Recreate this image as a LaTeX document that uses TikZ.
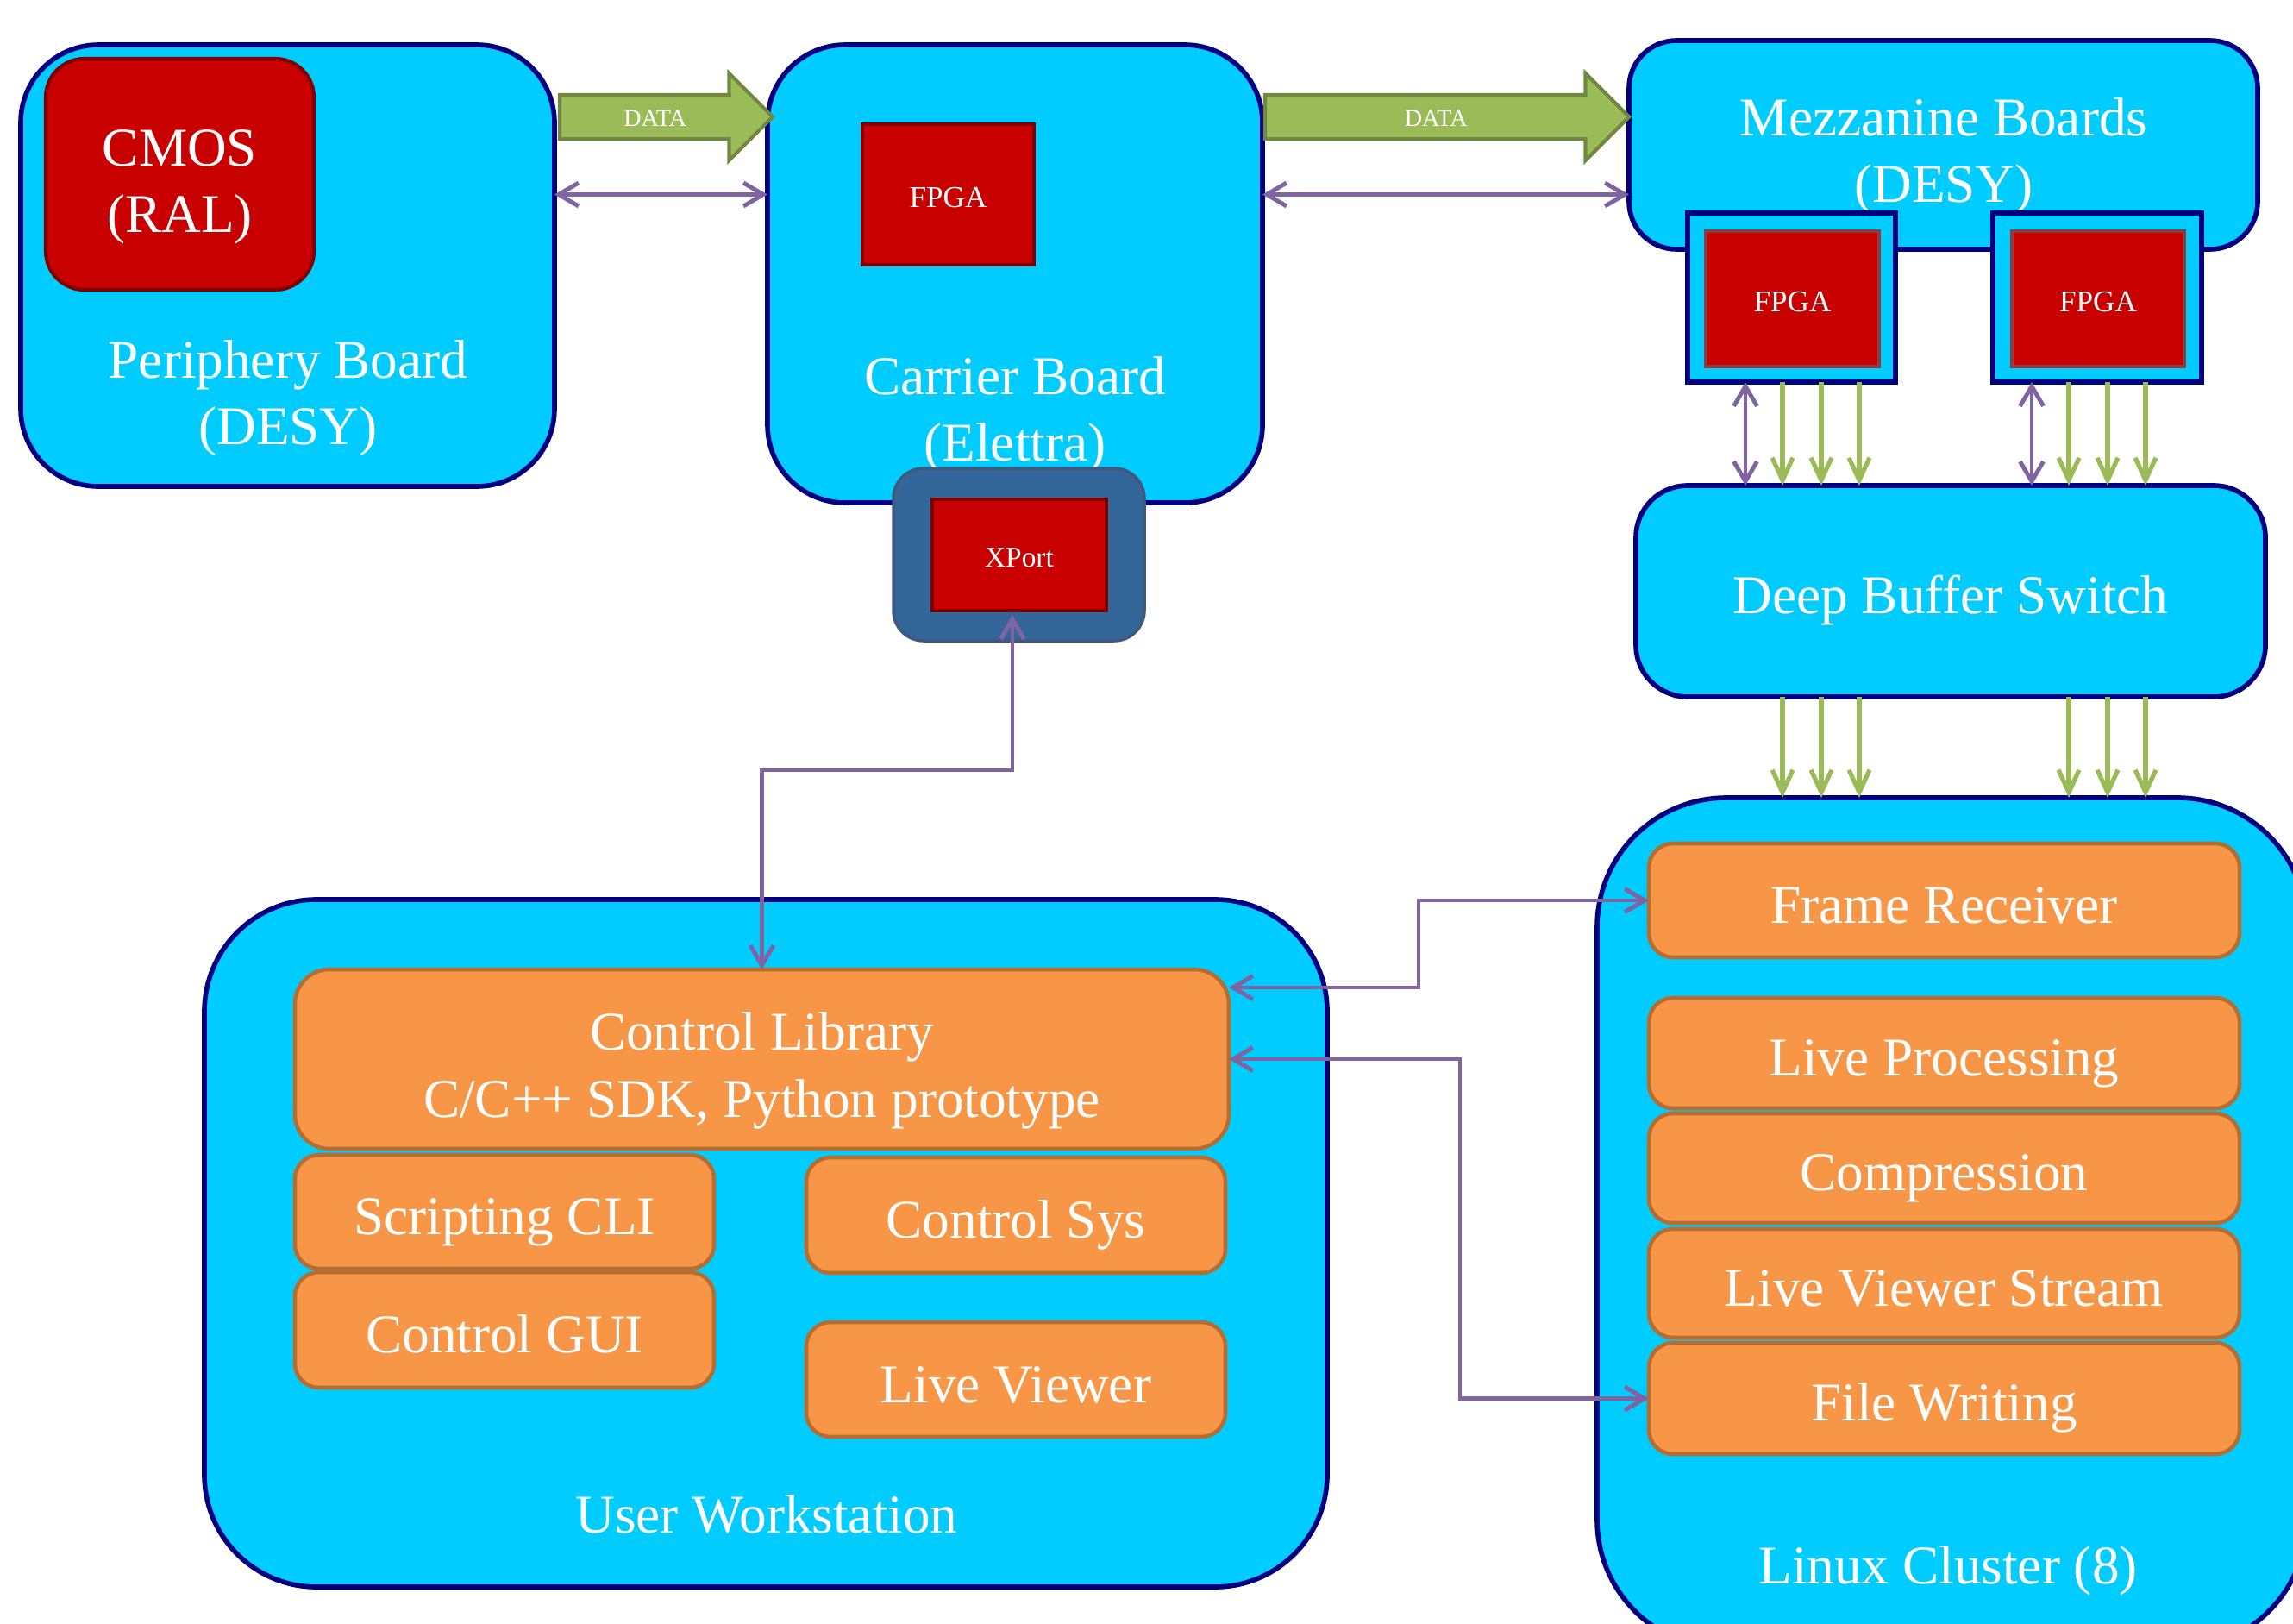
\documentclass[tikz,border=0pt]{standalone}
\usepackage{fontspec}
\setmainfont{Liberation Serif}
\usetikzlibrary{arrows.meta,shapes.arrows}

\definecolor{boardfill}{RGB}{0,204,255}
\definecolor{boardline}{RGB}{0,0,128}
\definecolor{chipfill}{RGB}{200,0,0}
\definecolor{chipline}{RGB}{128,0,0}
\definecolor{mezzchipline}{RGB}{140,62,62}
\definecolor{portfill}{RGB}{51,102,153}
\definecolor{portline}{RGB}{62,88,126}
\definecolor{taskfill}{RGB}{247,150,70}
\definecolor{taskline}{RGB}{182,109,49}
\definecolor{datafill}{RGB}{155,187,89}
\definecolor{dataline}{RGB}{113,137,63}
\definecolor{ctrlline}{RGB}{128,100,162}

\newcommand{\topstrut}{\rule{0pt}{1.12em}}

\tikzset{
  every node/.style={inner sep=0pt, outer sep=0pt},
  big/.style={font=\fontsize{18}{22}\selectfont, text=white, align=center},
  strut/.style={execute at begin node={\rule[-0.21em]{0pt}{1.26em}}},
  board/.style={draw=boardline, fill=boardfill, line width=1.6pt, rounded corners=0.9cm},
  chip/.style={draw=chipline, fill=chipfill, line width=1.2pt, text=white, font=\fontsize{10}{12}\selectfont, strut},
  socket/.style={draw=boardline, fill=boardfill, line width=1.7pt},
  port/.style={draw=portline, fill=portfill, line width=1pt, rounded corners=0.35cm},
  task/.style={draw=taskline, fill=taskfill, line width=1.3pt, rounded corners=0.28cm, big, strut},
  dataarrow/.style={single arrow, draw=dataline, fill=datafill, line width=1.2pt,
    single arrow head extend=0.25cm, anchor=tail, text=white,
    font=\fontsize{8}{9}\selectfont, text height=0.22cm, text depth=0pt, inner ysep=0.125cm},
  ctrl/.style={draw=ctrlline, line width=1.4pt,
    {Straight Barb[length=2.3mm,width=2.7mm]}-{Straight Barb[length=2.3mm,width=2.7mm]}},
  feed/.style={draw=datafill, line width=1.5pt, -{Straight Barb[length=2.6mm,width=2.4mm]}}
}

\begin{document}
\begin{tikzpicture}
  \useasboundingbox (0,0) rectangle (26.59,-18.82);
  \clip (0,0) rectangle (26.59,-18.82);

  % boards of the detector head
  \node[board, minimum width=6.19cm, minimum height=5.12cm] (periphery) at (3.335,-3.08) {};
  \node[chip, rounded corners=0.45cm, minimum width=3.11cm, minimum height=2.68cm, big] (cmos) at (2.085,-2.02) {\topstrut CMOS\\(RAL)};
  \node[big] (peripherylabel) at (3.34,-4.62) {Periphery Board\\(DESY)};

  \node[board, minimum width=5.74cm, minimum height=5.31cm] (carrier) at (11.77,-3.175) {};
  \node[chip, minimum width=1.99cm, minimum height=1.63cm] (carrierfpga) at (10.995,-2.255) {FPGA};
  \node[big] (carrierlabel) at (11.77,-4.81) {Carrier Board\\(Elettra)};
  \node[port, minimum width=2.91cm, minimum height=2.0cm] (xport) at (11.815,-6.43) {};
  \node[chip, minimum width=2.02cm, minimum height=1.29cm, font=\fontsize{9.5}{11}\selectfont] (xportchip) at (11.82,-6.435) {XPort};

  \node[board, rounded corners=0.55cm, minimum width=7.29cm, minimum height=2.42cm] (mezz) at (22.535,-1.68) {};
  \node[big] (mezzlabel) at (22.54,-1.81) {Mezzanine Boards\\(DESY)};
  \node[socket, minimum width=2.41cm, minimum height=1.96cm] (mezzA) at (20.775,-3.45) {};
  \node[chip, draw=mezzchipline, minimum width=2.01cm, minimum height=1.57cm] (fpgaA) at (20.785,-3.465) {FPGA};
  \node[socket, minimum width=2.42cm, minimum height=1.96cm] (mezzB) at (24.32,-3.45) {};
  \node[chip, draw=mezzchipline, minimum width=2.0cm, minimum height=1.57cm] (fpgaB) at (24.33,-3.465) {FPGA};

  \node[board, rounded corners=0.6cm, minimum width=7.3cm, minimum height=2.45cm, big, strut] (switch) at (22.62,-6.855) {Deep Buffer Switch};

  % linux cluster
  \node[board, rounded corners=1.5cm, minimum width=8.23cm, minimum height=9.87cm] (cluster) at (22.635,-14.185) {};
  \node[task, minimum width=6.85cm, minimum height=1.32cm] (frame) at (22.545,-10.44) {Frame Receiver};
  \node[task, minimum width=6.85cm, minimum height=1.28cm] (liveproc) at (22.545,-12.21) {Live Processing};
  \node[task, minimum width=6.85cm, minimum height=1.27cm] (compress) at (22.545,-13.545) {Compression};
  \node[task, minimum width=6.85cm, minimum height=1.26cm] (lvstream) at (22.545,-14.88) {Live Viewer Stream};
  \node[task, minimum width=6.85cm, minimum height=1.29cm] (filewrite) at (22.545,-16.215) {File Writing};
  \node[big] (clusterlabel) at (22.59,-18.21) {Linux Cluster (8)};

  % user workstation
  \node[board, rounded corners=1.3cm, minimum width=13.02cm, minimum height=7.97cm] (workstation) at (8.88,-14.415) {};
  \node[task, rounded corners=0.4cm, minimum width=10.83cm, minimum height=2.08cm] (ctrllib) at (8.835,-12.28) {\topstrut Control Library\\C/C++ SDK, Python prototype};
  \node[task, minimum width=4.86cm, minimum height=1.32cm] (scripting) at (5.85,-14.05) {Scripting CLI};
  \node[task, minimum width=4.86cm, minimum height=1.34cm] (ctrlgui) at (5.85,-15.42) {Control GUI};
  \node[task, minimum width=4.86cm, minimum height=1.34cm] (ctrlsys) at (11.78,-14.09) {Control Sys};
  \node[task, minimum width=4.86cm, minimum height=1.33cm] (liveviewer) at (11.78,-15.995) {Live Viewer};
  \node[big] (workstationlabel) at (8.89,-17.56) {User Workstation};

  % data links
  \node[dataarrow, minimum height=2.47cm] (dataA) at (6.49,-1.355) {DATA};
  \node[dataarrow, minimum height=4.22cm] (dataB) at (14.67,-1.355) {DATA};

  \begin{scope}
    \draw[ctrl] (periphery.east |- carrierfpga) -- (carrier.west |- carrierfpga);
    \draw[ctrl] (carrier.east |- carrierfpga) -- (mezz.west |- carrierfpga);

    \draw[ctrl] ([xshift=-5.35mm]mezzA.south) -- ([xshift=-5.35mm]mezzA.south |- switch.north);
    \draw[feed] ([xshift=-1.05mm]mezzA.south) -- ([xshift=-1.05mm]mezzA.south |- switch.north);
    \draw[feed] ([xshift=3.45mm]mezzA.south) -- ([xshift=3.45mm]mezzA.south |- switch.north);
    \draw[feed] ([xshift=7.85mm]mezzA.south) -- ([xshift=7.85mm]mezzA.south |- switch.north);
    \draw[ctrl] ([xshift=-7.6mm]mezzB.south) -- ([xshift=-7.6mm]mezzB.south |- switch.north);
    \draw[feed] ([xshift=-3.3mm]mezzB.south) -- ([xshift=-3.3mm]mezzB.south |- switch.north);
    \draw[feed] ([xshift=1.2mm]mezzB.south) -- ([xshift=1.2mm]mezzB.south |- switch.north);
    \draw[feed] ([xshift=5.6mm]mezzB.south) -- ([xshift=5.6mm]mezzB.south |- switch.north);

    \draw[feed] ([xshift=-19.5mm]switch.south) -- ([xshift=-19.5mm]switch.south |- cluster.north);
    \draw[feed] ([xshift=-15mm]switch.south) -- ([xshift=-15mm]switch.south |- cluster.north);
    \draw[feed] ([xshift=-10.6mm]switch.south) -- ([xshift=-10.6mm]switch.south |- cluster.north);
    \draw[feed] ([xshift=13.7mm]switch.south) -- ([xshift=13.7mm]switch.south |- cluster.north);
    \draw[feed] ([xshift=18.2mm]switch.south) -- ([xshift=18.2mm]switch.south |- cluster.north);
    \draw[feed] ([xshift=22.6mm]switch.south) -- ([xshift=22.6mm]switch.south |- cluster.north);

    \draw[ctrl] ([xshift=-0.08cm, yshift=-0.05cm]xportchip.south) -- ++(0,-1.8) -| (ctrllib.north);
    \draw[ctrl] ([yshift=0.83cm]ctrllib.east) -- ++(2.2,0) |- (frame.west);
    \draw[ctrl] (ctrllib.east) -- ++(2.68,0) |- (filewrite.west);
  \end{scope}
\end{tikzpicture}
\end{document}
